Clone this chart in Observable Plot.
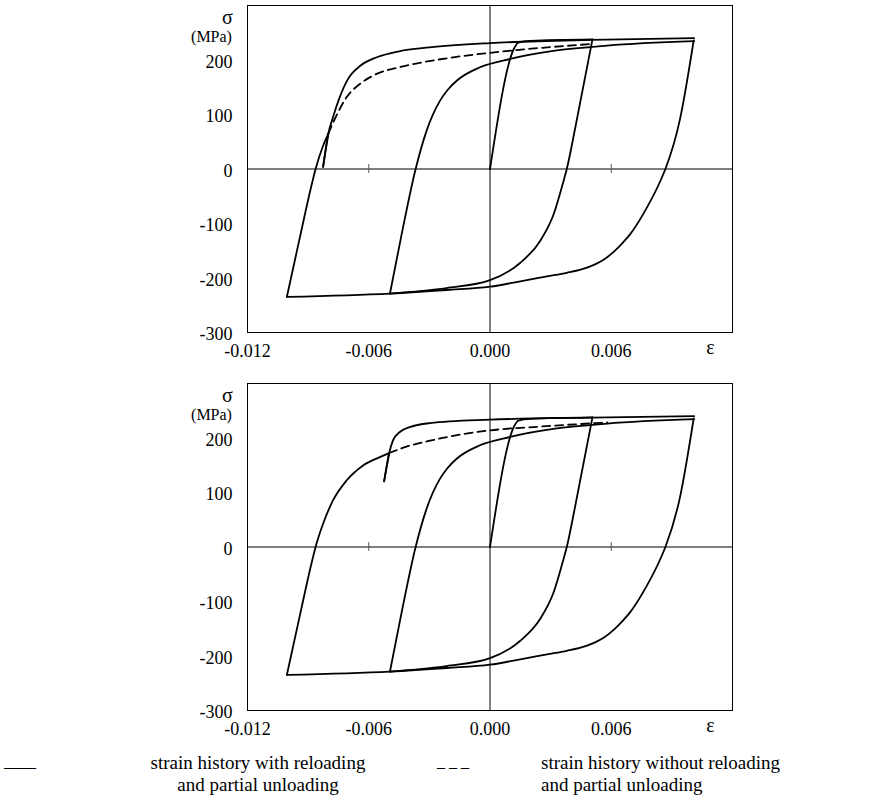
<!DOCTYPE html>
<html>
<head>
<meta charset="utf-8">
<script src="https://cdn.jsdelivr.net/npm/d3@7"></script>
<script src="https://cdn.jsdelivr.net/npm/@observablehq/plot@0.6"></script>
<style>
  html, body { margin: 0; padding: 0; background: white; }
  #wrap { position: relative; width: 879px; height: 809px; font-family: "Liberation Serif", "Times New Roman", Times, "DejaVu Serif", serif; }
  #wrap svg { display: block; }
  #wrap svg text { font-family: "Liberation Serif", "Times New Roman", Times, "DejaVu Serif", serif; }
  .leg { position: absolute; font-size: 19px; line-height: 22px; color: black; white-space: nowrap; }
  .mark { position: absolute; font-size: 16px; line-height: 22px; color: black; white-space: pre; }
</style>
</head>
<body>
<div id="wrap">
  <div id="top"></div>
  <div id="bottom"></div>
  <div class="mark" style="left:4px; top:751px;">____</div>
  <div class="leg" style="left:108px; top:752px; width:300px; text-align:center;">strain history with reloading<br>and partial unloading</div>
  <div class="mark" style="left:437px; top:751px;">_ _ _</div>
  <div class="leg" style="left:541px; top:752px;">strain history without reloading<br>and partial unloading</div>
</div>
<script>
// axis ticks
const xTicks = [-0.012, -0.006, 0, 0.006];
const xTickLabels = ["-0.012", "-0.006", "0.000", "0.006"];
const yTicks = [-300, -200, -100, 0, 100, 200];
const yTickLabels = ["-300", "-200", "-100", "0", "100", "200"];
const innerTicks = [-0.006, 0.006];

// shared strain history (strain ε, stress σ in MPa)
const loadEps = [0, 0.0012, 0.0014, 0.002, 0.00507];
const loadSig = [0, 222, 232, 235, 237.7];
const unload1Eps = [0.00507, 0.0042, 0.0038, 0.00364, 0.00315, 0.00248, 0.0015, 0, -0.00215, -0.00495];
const unload1Sig = [237.7, 72, 0, -22, -83, -132, -172, -204, -218.5, -228.5];
const reload1Eps = [-0.00495, -0.0044, -0.00368, -0.00314, -0.00248, -0.0021, -0.00165, -0.0005, 0.001, 0.0033, 0.0058, 0.0101];
const reload1Sig = [-228.5, -125, 0, 70, 125, 145, 162, 186.6, 202, 217.5, 226.5, 234.5];
const unload2Eps = [0.01008, 0.0094, 0.00868, 0.00843, 0.00777, 0.00694, 0.0066, 0.00612, 0.0056, 0.0052, 0.0048, 0.0038, 0.00282, 0.0015, 0, -0.00215, -0.00495, -0.01005];
const unload2Sig = [236, 91, 0, -22, -70.5, -119.4, -134, -152, -167, -175, -181, -190.5, -197, -206, -216, -222, -228.5, -234.5];

// top panel
const topReloadEps = [-0.01005, -0.0094, -0.00879, -0.00863, -0.00826, -0.0080];
const topReloadSig = [-234.5, -124, -23.5, 0, 42.6, 65];
const topPartialEps = [-0.0080, -0.00826];
const topPartialSig = [65, 4];
const topFinalEps = [-0.00826, -0.0080, -0.00777, -0.00744, -0.00703, -0.0064, -0.0056, -0.0045, -0.003, 0, 0.005, 0.0101];
const topFinalSig = [4, 65, 95, 131.5, 165, 190, 205, 216, 223, 231, 237, 240];
const topDashEps = [-0.0080, -0.0076, -0.0071, -0.00644, -0.00561, -0.00446, -0.003, -0.0015, 0.001, 0.0051];
const topDashSig = [65, 98, 131.5, 156, 174.5, 187, 198, 206.5, 217, 229.6];

// bottom panel
const botReloadEps = [-0.01005, -0.0094, -0.00879, -0.00863, -0.00826, -0.00777, -0.0071, -0.00628, -0.00545, -0.00499];
const botReloadSig = [-234.5, -124, -23.5, 0, 42.6, 85.4, 122, 149.7, 165, 172.3];
const botPartialEps = [-0.00499, -0.00524];
const botPartialSig = [172.3, 120.3];
const botFinalEps = [-0.00524, -0.00499, -0.0048, -0.00446, -0.00397, -0.00297, 0, 0.005, 0.0101];
const botFinalSig = [120.3, 172.3, 195.6, 211, 220, 227.4, 233.6, 237.5, 240];
const botDashEps = [-0.00499, -0.00413, -0.00297, -0.0015, 0, 0.0025, 0.0051, 0.0058];
const botDashSig = [172.3, 184, 195, 206, 214, 221, 227, 228.5];

// each segment is monotone in strain: sort it by strain for a smooth monotone-x curve
function rows(segments) {
  const out = [];
  segments.forEach(([eps, sig], k) => {
    const seg = eps.map((e, i) => ({e, s: sig[i], seg: k}));
    seg.sort((a, b) => a.e - b.e);
    out.push(...seg);
  });
  return out;
}

const FONT = '"Liberation Serif", "Times New Roman", Times, "DejaVu Serif", serif';

function panel(solidSegs, dashSegs) {
  return Plot.plot({
    width: 879,
    height: 378,
    marginLeft: 247,
    marginRight: 147,
    marginTop: 5,
    marginBottom: 46,
    style: {fontFamily: FONT, fontSize: "18px", background: "white", color: "black"},
    x: {domain: [-0.012, 0.012], axis: null},
    y: {domain: [-300, 300], axis: null},
    marks: [
      Plot.frame({stroke: "black", strokeWidth: 1}),
      Plot.ruleY([0], {stroke: "black", strokeWidth: 1}),
      Plot.ruleX([0], {stroke: "black", strokeWidth: 1}),
      Plot.ruleX(innerTicks, {y1: -8, y2: 8, stroke: "#555", strokeWidth: 1}),
      Plot.axisX(xTicks, {tickSize: 0, tickPadding: 12, tickFormat: d => xTickLabels[xTicks.indexOf(d)], fontSize: 18, label: null}),
      Plot.axisY(yTicks, {tickSize: 0, tickPadding: 15, tickFormat: d => yTickLabels[yTicks.indexOf(d)], fontSize: 18, label: null, dy: 2}),
      Plot.text(["σ"], {frameAnchor: "top-left", dx: -20, dy: 4, fontSize: 20, textAnchor: "middle"}),
      Plot.text(["(MPa)"], {frameAnchor: "top-left", dx: -36, dy: 25, fontSize: 16, textAnchor: "middle"}),
      Plot.text(["ε"], {frameAnchor: "bottom-right", dx: -22, dy: 21, fontSize: 20, textAnchor: "middle"}),
      Plot.line(rows(solidSegs), {x: "e", y: "s", z: "seg", curve: "monotone-x", stroke: "black", strokeWidth: 1.8}),
      Plot.line(rows(dashSegs), {x: "e", y: "s", z: "seg", curve: "monotone-x", stroke: "black", strokeWidth: 1.8, strokeDasharray: "8,5"})
    ]
  });
}

const shared = [
  [loadEps, loadSig], [unload1Eps, unload1Sig], [reload1Eps, reload1Sig], [unload2Eps, unload2Sig]
];

document.getElementById("top").append(panel(
  shared.concat([[topReloadEps, topReloadSig], [topPartialEps, topPartialSig], [topFinalEps, topFinalSig]]),
  [[topDashEps, topDashSig]]
));
document.getElementById("bottom").append(panel(
  shared.concat([[botReloadEps, botReloadSig], [botPartialEps, botPartialSig], [botFinalEps, botFinalSig]]),
  [[botDashEps, botDashSig]]
));
</script>
</body>
</html>
